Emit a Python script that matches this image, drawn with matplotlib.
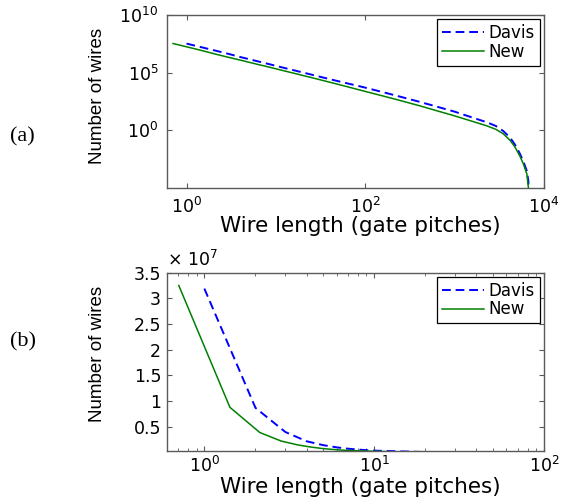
import matplotlib
matplotlib.use('Agg')
import matplotlib.pyplot as plt
from matplotlib.ticker import FixedLocator, NullLocator, NullFormatter, LogLocator

# ---- data ----
davis_len = [1, 2, 3, 4, 5, 6, 7, 8, 9, 10, 20, 40, 100, 200, 410, 700, 1000,
             1500, 2290, 2900, 3500, 4170, 4700, 4960, 5400, 5880, 6420, 6690, 6740]
davis_num = [3.19e7, 8.7e6, 4.0e6, 2.2e6, 1.45e6, 1.02e6, 7.6e5, 5.9e5, 4.7e5, 3.8e5,
             1.02e5, 2.7e4, 5.0e3, 1.26e3, 2.9e2, 91, 42, 14.8, 5.1, 2.4, 0.89,
             0.24, 0.063, 0.032, 8.9e-3, 2e-3, 3.2e-4, 4e-5, 1e-7]
new_len = [0.707, 1.414, 2.121, 2.828, 3.536, 4.243, 4.95, 5.657, 6.364, 7.071,
           14.1, 28.3, 50, 100, 200, 410, 700, 968, 1500, 2290, 2900, 3500, 4170,
           4700, 4960, 5400, 5880, 6420, 6690, 6710]
new_num = [3.25e7, 8.8e6, 3.9e6, 2.25e6, 1.5e6, 1.07e6, 7.9e5, 6.2e5, 4.9e5, 4.1e5,
           1.1e5, 2.9e4, 9.5e3, 2.35e3, 5.9e2, 1.32e2, 40, 19.5, 6.9, 2.5, 1.23, 0.51,
           0.14, 0.04, 0.019, 5.6e-3, 1.26e-3, 1.8e-4, 1.1e-5, 1e-7]

series_labels = ['Davis', 'New']
xlabel_text = 'Wire length (gate pitches)'
ylabel_text = 'Number of wires'
panel_labels = ['(a)', '(b)']
top_xticks = [1, 1e2, 1e4]
top_yticks = [1, 1e5, 1e10]
bot_yticks = [0.5e7, 1e7, 1.5e7, 2e7, 2.5e7, 3e7, 3.5e7]
bot_yticklabels = ['0.5', '1', '1.5', '2', '2.5', '3', '3.5']

BLUE = '#0000ff'
GREEN = '#008000'
SPINE = '#5a5a5a'

fig = plt.figure(figsize=(5.62, 5.04), dpi=100)
fig.patch.set_facecolor('white')

ax1 = fig.add_axes([0.2966, 0.6264, 0.6714, 0.3444])
ax2 = fig.add_axes([0.2966, 0.1058, 0.6714, 0.3532])


def style(ax, pad):
    for s in ax.spines.values():
        s.set_color(SPINE)
        s.set_linewidth(1.0)
    ax.tick_params(which='both', direction='in', top=True, right=True,
                   color=SPINE, labelsize=12.5, pad=pad)
    ax.tick_params(which='major', length=3.5, width=0.8)
    ax.tick_params(which='minor', length=2, width=0.6)


for ax in (ax1, ax2):
    ax.plot(davis_len, davis_num, color=BLUE, lw=1.4, dashes=(4.5, 2.5), label=series_labels[0])
    ax.plot(new_len, new_num, color=GREEN, lw=1.1, label=series_labels[1])
    ax.set_xscale('log')

# top panel
ax1.set_yscale('log')
ax1.set_xlim(0.6, 1.0e4)
ax1.set_ylim(1e-5, 1e10)
ax1.xaxis.set_major_locator(FixedLocator(top_xticks))
ax1.yaxis.set_major_locator(FixedLocator(top_yticks))
ax1.xaxis.set_minor_locator(NullLocator())
ax1.yaxis.set_minor_locator(NullLocator())
style(ax1, 6)

# bottom panel
ax2.set_xlim(0.6, 100)
ax2.set_ylim(0.037e7, 3.5e7)
ax2.xaxis.set_major_locator(LogLocator(base=10))
ax2.xaxis.set_minor_locator(LogLocator(base=10, subs=range(2, 10)))
ax2.xaxis.set_minor_formatter(NullFormatter())
ax2.set_yticks(bot_yticks)
ax2.set_yticklabels(bot_yticklabels)
style(ax2, 4)
ax2.text(0.0, 1.015, r'$\times\ 10^{7}$', transform=ax2.transAxes,
         fontsize=12.5, ha='left', va='bottom')

leg_kw = dict(loc='upper right', borderaxespad=0, fontsize=12, frameon=True,
              fancybox=False, framealpha=1, edgecolor='black', handlelength=2.5,
              handletextpad=0.3, labelspacing=0.05, borderpad=0.3)
l1 = ax1.legend(bbox_to_anchor=(0.989, 0.9735), **leg_kw)
l2 = ax2.legend(bbox_to_anchor=(0.989, 0.978), **leg_kw)
for lg in (l1, l2):
    lg.get_frame().set_linewidth(0.9)

# axis labels
ax1.text(0.512, -0.217, xlabel_text, transform=ax1.transAxes, fontsize=15.5,
         ha='center', va='center')
ax2.text(0.512, -0.204, xlabel_text, transform=ax2.transAxes, fontsize=15.5,
         ha='center', va='center')
ylab_fam = ['Liberation Sans', 'DejaVu Sans']
ax1.text(-0.183, 0.532, ylabel_text, transform=ax1.transAxes, fontsize=13.5,
         rotation=90, ha='center', va='center', family=ylab_fam)
ax2.text(-0.183, 0.543, ylabel_text, transform=ax2.transAxes, fontsize=13.5,
         rotation=90, ha='center', va='center', family=ylab_fam)

# panel labels
fig.text(22 / 562, 1 - 137 / 504, panel_labels[0], fontsize=16, family='Liberation Serif',
         ha='center', va='center')
fig.text(23 / 562, 1 - 342 / 504, panel_labels[1], fontsize=16, family='Liberation Serif',
         ha='center', va='center')

fig.savefig('out.png', dpi=100, facecolor='white')
